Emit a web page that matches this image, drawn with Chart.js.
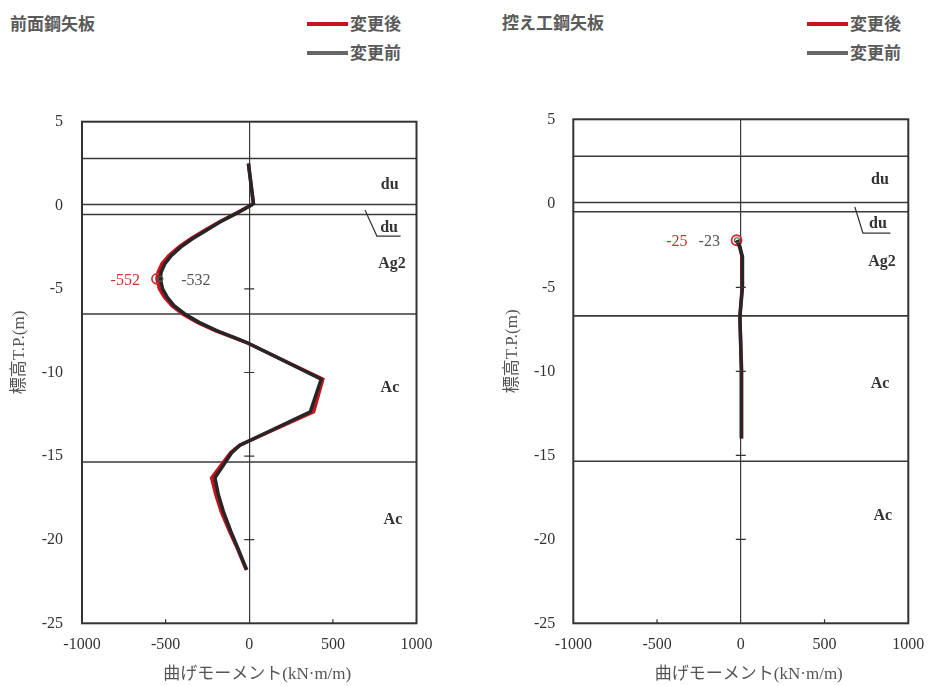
<!doctype html>
<html>
  <head>
    <meta charset="utf-8" />
    <title>曲げモーメント分布</title>
    <script src="https://cdn.jsdelivr.net/npm/chart.js"></script>
    <style>
      body {
        margin: 0;
        background: #fff;
        width: 930px;
        height: 686px;
        position: relative;
        overflow: hidden;
        font-family: "Noto Sans CJK JP", sans-serif;
      }
      .panel {
        position: absolute;
        top: 0;
        width: 465px;
        height: 686px;
      }
      .title,
      .key {
        position: absolute;
        font-weight: bold;
        font-size: 17px;
        color: #5a5a5a;
        line-height: 20px;
        white-space: nowrap;
      }
      .key span {
        display: inline-block;
        width: 41px;
        height: 4px;
        vertical-align: middle;
        margin-right: 2px;
        position: relative;
        top: -1px;
      }
    </style>
  </head>

  <body>
    <div class="title" style="left: 10px; top: 13px">前面鋼矢板</div>
    <div class="key" style="left: 307px; top: 13px"><span style="background: #c8121e"></span>変更後</div>
    <div class="key" style="left: 307px; top: 42px"><span style="background: #666"></span>変更前</div>

    <div class="title" style="left: 502px; top: 12px">控え工鋼矢板</div>
    <div class="key" style="left: 807px; top: 13px"><span style="background: #c8121e"></span>変更後</div>
    <div class="key" style="left: 807px; top: 42px"><span style="background: #666"></span>変更前</div>

    <canvas id="front" class="panel" style="left: 0px" width="465" height="686"></canvas>
    <canvas id="anchor" class="panel" style="left: 465px" width="465" height="686"></canvas>

    <script>
      // elevation (T.P. m) and bending moment (kN·m/m) - front sheet pile
      var frontElev = [2.5, 0.1, 0, -0.5, -1.0, -1.5, -2.0, -2.5, -3.0, -3.5, -4.0, -4.4, -5.0, -5.5, -6.0,
        -6.5, -7.0, -7.5, -8.0, -8.25, -10.4, -12.35, -14.35, -14.8, -16.3, -17.3, -18.3, -19.5, -20.5, -21.8];
      var frontBefore = [-5, 25, 10, -80, -175, -258, -340, -410, -465, -505, -527, -532, -518, -490, -450,
        -385, -300, -195, -65, -5, 430, 365, -55, -105, -205, -185, -155, -110, -68, -15];
      var frontAfter = [-5, 25, 10, -82, -180, -266, -350, -422, -480, -522, -545, -552, -537, -507, -462,
        -398, -310, -203, -70, -8, 440, 385, -58, -112, -225, -200, -168, -118, -72, -18];

      // anchor (tie-back) sheet pile
      var anchorElev = [-2.2, -2.6, -3.2, -5.0, -6.75, -9.9, -14.0];
      var anchorBefore = [-23, -5, 10, 10, -5, 3, 3];
      var anchorAfter = [-25, -7, 8, 8, -6, 5, 5];

      // soil layer boundaries
      var frontLayers = [2.8, 0.05, -0.55, -6.5, -15.35];
      var anchorLayers = [2.8, 0.05, -0.5, -6.7, -15.35];
      var layerNames = ["du", "du", "Ag2", "Ac", "Ac"];

      var xTicks = [-1000, -500, 0, 500, 1000];
      var yTicks = [5, 0, -5, -10, -15, -20, -25];

      var RED = "#c8121e";
      var DARK = "#262626";
      var SERIF = '"Liberation Serif", "Times New Roman", serif';

      function pts(elev, vals) {
        return elev.map(function (e, i) {
          return { x: vals[i], y: e };
        });
      }

      function minIndex(vals) {
        var k = 0;
        vals.forEach(function (v, i) {
          if (v < vals[k]) k = i;
        });
        return k;
      }

      // frame, small ticks, layer names, peak labels, axis titles
      var decor = {
        id: "decor",
        afterDatasetsDraw: function (chart, args, o) {
          var ctx = chart.ctx;
          var a = chart.chartArea;
          var xs = chart.scales.x;
          var ys = chart.scales.y;
          var x0 = xs.getPixelForValue(0);
          ctx.save();

          ctx.strokeStyle = "#333";
          ctx.lineWidth = 1.2;
          ctx.beginPath();
          [-5, -10, -15, -20].forEach(function (v) {
            var y = ys.getPixelForValue(v);
            ctx.moveTo(x0 - 5, y);
            ctx.lineTo(x0 + 5, y);
          });
          [-500, 500].forEach(function (v) {
            var x = xs.getPixelForValue(v);
            ctx.moveTo(x, a.bottom);
            ctx.lineTo(x, a.bottom - 4);
          });
          ctx.stroke();

          ctx.lineWidth = 2;
          ctx.strokeRect(a.left, a.top, a.right - a.left, a.bottom - a.top);

          // leader to the thin du layer
          ctx.lineWidth = 1.2;
          ctx.beginPath();
          o.leader.forEach(function (p, i) {
            var x = xs.getPixelForValue(p[0]);
            var y = ys.getPixelForValue(p[1]);
            if (i === 0) ctx.moveTo(x, y);
            else ctx.lineTo(x, y);
          });
          ctx.stroke();

          ctx.fillStyle = "#333";
          ctx.font = "bold 16px " + SERIF;
          ctx.textAlign = "center";
          ctx.textBaseline = "middle";
          layerNames.forEach(function (t, i) {
            var p = o.names[i];
            ctx.fillText(t, xs.getPixelForValue(p[0]), ys.getPixelForValue(p[1]));
          });

          // peak values
          ctx.font = "16px " + SERIF;
          ctx.textAlign = "right";
          var pa = chart.getDatasetMeta(1).data[o.peakAfter];
          var pb = chart.getDatasetMeta(0).data[o.peakBefore];
          ctx.fillStyle = "#c0392b";
          ctx.fillText(String(o.after), pa.x + o.dxAfter, pa.y + 2);
          ctx.fillStyle = "#555";
          ctx.textAlign = o.alignBefore;
          ctx.fillText(String(o.before), pb.x + o.dxBefore, pb.y + 2);

          // axis titles
          ctx.fillStyle = "#555";
          ctx.font = "17px " + SERIF + ', "Noto Sans CJK JP"';
          ctx.textAlign = "center";
          ctx.fillText("曲げモーメント(kN·m/m)", (a.left + a.right) / 2 + 8, 675);
          ctx.translate(a.left - o.yTitleGap, (a.top + a.bottom) / 2 - 20);
          ctx.rotate(-Math.PI / 2);
          ctx.fillText("標高T.P.(m)", 0, 0);
          ctx.restore();
        },
      };

      function makeChart(id, elev, before, after, layers, cfg) {
        var iB = minIndex(before);
        var iA = minIndex(after);
        var datasets = [
          {
            label: "変更前",
            data: pts(elev, before),
            borderColor: DARK,
            borderWidth: 3.5,
            pointRadius: function (c) {
              return c.dataIndex === iB ? 2.5 : 0;
            },
            pointBorderColor: "#555",
            pointBackgroundColor: "rgba(0,0,0,0)",
            pointBorderWidth: 1.2,
          },
          {
            label: "変更後",
            data: pts(elev, after),
            borderColor: RED,
            borderWidth: 3.5,
            pointRadius: function (c) {
              return c.dataIndex === iA ? 5 : 0;
            },
            pointBorderColor: "#d0312d",
            pointBackgroundColor: "rgba(0,0,0,0)",
            pointBorderWidth: 1.8,
          },
        ];
        layers.forEach(function (b) {
          datasets.push({
            data: [
              { x: -1000, y: b },
              { x: 1000, y: b },
            ],
            borderColor: "#3a3a3a",
            borderWidth: 1.6,
            pointRadius: 0,
          });
        });

        var tickFont = { family: SERIF, size: 16 };
        var plain = function (v) {
          return String(v);
        };

        return new Chart(document.getElementById(id), {
          type: "line",
          data: { datasets: datasets },
          options: {
            responsive: false,
            animation: false,
            events: [],
            layout: { padding: { top: cfg.top, right: cfg.right, left: 0, bottom: 0 } },
            plugins: {
              legend: { display: false },
              tooltip: { enabled: false },
              decor: {
                names: cfg.names,
                leader: cfg.leader,
                peakBefore: iB,
                peakAfter: iA,
                before: before[iB],
                after: after[iA],
                dxAfter: cfg.dxAfter,
                dxBefore: cfg.dxBefore,
                alignBefore: cfg.alignBefore,
                yTitleGap: cfg.yTitleGap,
              },
            },
            scales: {
              x: {
                type: "linear",
                min: -1000,
                max: 1000,
                afterBuildTicks: function (s) {
                  s.ticks = xTicks.map(function (v) {
                    return { value: v };
                  });
                },
                afterFit: function (s) {
                  s.height = 62.7;
                  s.paddingLeft = 0;
                  s.paddingRight = 0;
                },
                ticks: { color: "#333", font: tickFont, padding: 12, maxRotation: 0, callback: plain },
                grid: {
                  drawTicks: false,
                  lineWidth: 1.2,
                  color: function (c) {
                    return c.tick && c.tick.value === 0 ? "#3a3a3a" : "rgba(0,0,0,0)";
                  },
                },
                border: { display: false },
              },
              y: {
                type: "linear",
                min: -25,
                max: 5,
                afterBuildTicks: function (s) {
                  s.ticks = yTicks.map(function (v) {
                    return { value: v };
                  });
                },
                afterFit: function (s) {
                  s.width = cfg.yWidth;
                  s.paddingTop = 0;
                  s.paddingBottom = 0;
                },
                ticks: { color: "#333", font: tickFont, padding: cfg.yPad, callback: plain },
                grid: { display: false, drawTicks: false },
                border: { display: false },
              },
            },
          },
          plugins: [decor],
        });
      }

      makeChart("front", frontElev, frontBefore, frontAfter, frontLayers, {
        top: 121.7,
        right: 48.5,
        yWidth: 82,
        yPad: 19,
        yTitleGap: 62,
        names: [[840, 1.2], [836, -1.36], [854, -3.5], [841, -10.9], [859, -18.8]],
        leader: [[692, -0.28], [763, -1.84], [905, -1.84]],
        dxAfter: -17,
        dxBefore: 21,
        alignBefore: "left",
      });

      makeChart("anchor", anchorElev, anchorBefore, anchorAfter, anchorLayers, {
        top: 119.3,
        right: 21.7,
        yWidth: 108.3,
        yPad: 18,
        yTitleGap: 61,
        names: [[831, 1.39], [819, -1.23], [843, -3.49], [831, -10.76], [848, -18.6]],
        leader: [[681, -0.22], [729, -1.77], [893, -1.77]],
        dxAfter: -49,
        dxBefore: -17,
        alignBefore: "right",
      });
    </script>
  </body>
</html>
